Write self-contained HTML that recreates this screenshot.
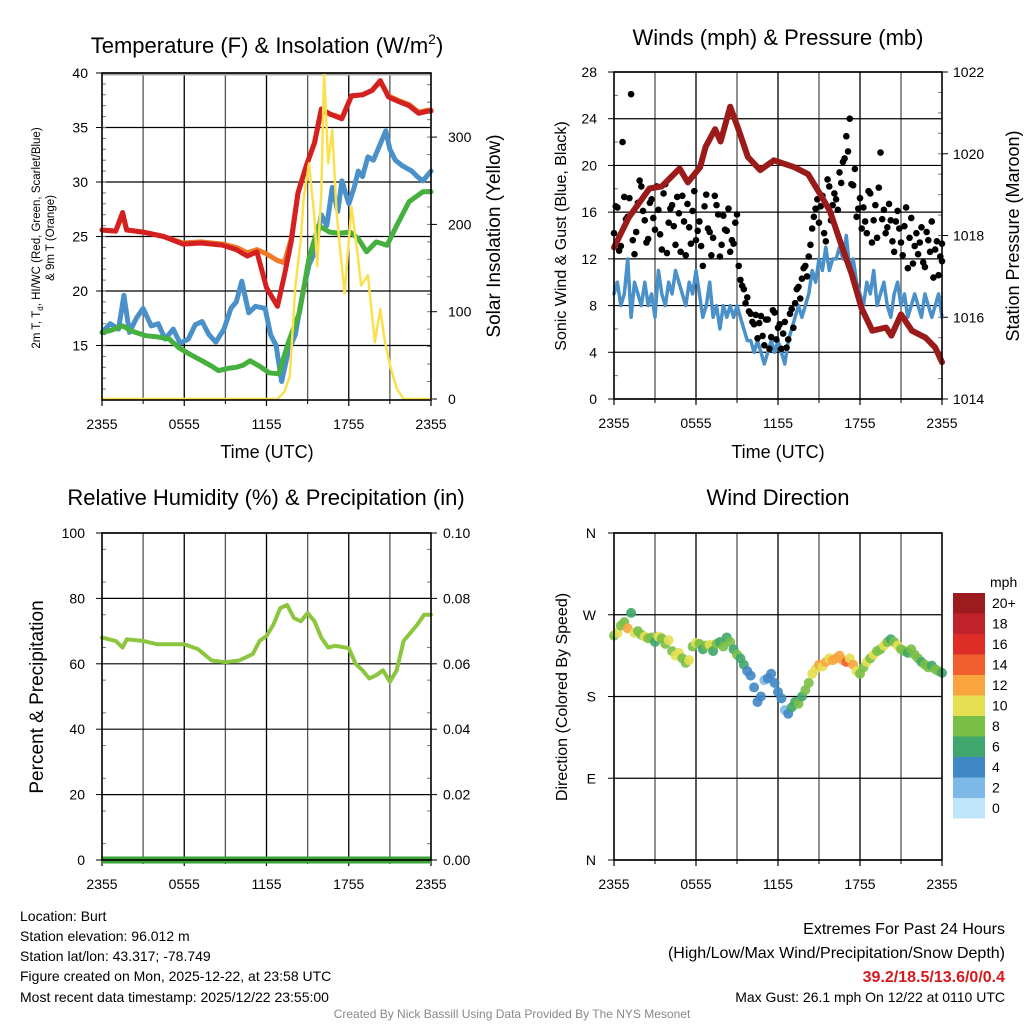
<!DOCTYPE html>
<html><head><meta charset="utf-8">
<style>
html,body{margin:0;padding:0;background:#fff;}
svg{display:block;font-family:"Liberation Sans",sans-serif;}
</style></head>
<body>
<svg id="chart" width="1024" height="1024" viewBox="0 0 1024 1024" xmlns="http://www.w3.org/2000/svg">
<rect width="1024" height="1024" fill="#fff"/>
<g id="g1"></g>
<g id="g2"></g>
<g id="g3"></g>
<g id="g4"></g>
<g id="txt" font-size="14" fill="#000">
<text x="20" y="921">Location: Burt</text>
<text x="20" y="941">Station elevation: 96.012 m</text>
<text x="20" y="961">Station lat/lon: 43.317; -78.749</text>
<text x="20" y="981">Figure created on Mon, 2025-12-22, at 23:58 UTC</text>
<text x="20" y="1002">Most recent data timestamp: 2025/12/22 23:55:00</text>
<text x="1005" y="934" text-anchor="end" font-size="16">Extremes For Past 24 Hours</text>
<text x="1005" y="958" text-anchor="end" font-size="16">(High/Low/Max Wind/Precipitation/Snow Depth)</text>
<text x="1005" y="982" text-anchor="end" font-size="16" font-weight="bold" fill="#d7191c">39.2/18.5/13.6/0/0.4</text>
<text x="1005" y="1002" text-anchor="end" font-size="14">Max Gust: 26.1 mph On 12/22 at 0110 UTC</text>
<text x="512" y="1018" text-anchor="middle" font-size="12" fill="#888">Created By Nick Bassill Using Data Provided By The NYS Mesonet</text>
</g>
</svg>
<script>
// ---------- data ----------
const xTickLabels = ["2355","0555","1155","1755","2355"];
const tempT = [0,1.0,1.5,1.8,3.0,4.5,5.9,7.2,8.8,9.8,10.6,11.3,12.0,12.8,13.3,13.8,14.3,14.9,15.5,16.0,16.7,17.5,18.2,19.0,19.7,20.3,20.9,21.6,22.4,23.1,23.8,24];
const tempRed = [25.6,25.5,27.2,25.6,25.4,25.0,24.3,24.4,24.2,23.8,23.2,23.6,20.3,18.6,21.4,24.5,29.0,31.5,33.6,36.7,36.2,35.8,37.9,38.0,38.4,39.3,37.8,37.4,37.0,36.3,36.5,36.5];
const tempOrange = [25.6,25.5,27.0,25.6,25.4,25.0,24.4,24.5,24.3,24.0,23.5,23.8,23.4,22.8,22.6,24.8,29.0,31.5,33.6,36.5,36.2,35.9,37.9,38.0,38.4,39.2,37.9,37.5,37.1,36.4,36.6,36.6];
const dewT = [0,0.7,1.5,2.2,3.2,4.0,4.9,5.6,6.4,7.3,8.0,8.5,9.2,9.8,10.3,10.8,11.5,12.2,12.9,13.6,14.4,15.1,15.8,16.6,17.3,18.1,18.7,19.3,20.0,20.8,21.5,22.4,23.4,24];
const dewGreen = [16.2,16.4,16.8,16.3,15.9,15.8,15.6,14.8,14.2,13.6,13.1,12.7,12.9,13.0,13.2,13.6,13.1,12.5,12.4,15.3,18.0,23.0,26.0,25.4,25.3,25.4,24.8,23.6,24.5,24.2,26.0,28.2,29.1,29.1];
const hiT = [0,0.6,1.2,1.6,2.0,2.5,3.0,3.6,4.1,4.6,5.2,5.7,6.3,6.8,7.3,7.8,8.3,8.9,9.4,9.8,10.2,10.7,11.2,11.9,12.3,12.7,13.1,13.6,14.1,14.6,15.1,15.5,16.0,16.4,16.8,17.2,17.5,18.0,18.4,18.7,19.0,19.4,19.8,20.3,20.7,21.0,21.4,21.9,22.6,23.0,23.4,24];
const hiBlue = [16.2,17.0,16.5,19.6,16.2,17.5,18.4,16.8,17.0,15.6,16.5,15.2,15.6,16.9,17.2,16.0,15.3,16.5,18.4,19.0,20.9,18.0,18.6,18.4,16.0,15.0,11.7,14.5,16.0,19.5,22.4,23.5,27.0,26.0,29.5,27.3,30.1,28.0,29.5,31.0,30.5,32.3,32.0,33.5,34.7,33.0,32.0,31.5,31.0,30.5,30.1,31.0];
const solarT = [0,12.8,13.3,13.7,14.1,14.5,14.7,15.1,15.5,15.7,16.0,16.2,16.5,16.8,17.1,17.3,17.7,18.2,18.6,18.9,19.4,19.9,20.3,20.6,21.0,21.5,22.0,24];
const solarW = [0,0,8,26,129,182,228,270,207,152,236,373,270,308,217,182,121,220,172,130,142,65,103,69,39,12,0,0];
const presT = [0,1.1,2.6,3.5,4.8,5.4,6.3,6.7,7.4,7.8,8.5,9.1,9.8,10.7,11.7,13.2,14.2,15.1,15.8,16.6,17.4,18.1,18.9,19.9,20.3,21.0,21.8,22.8,23.5,24];
const presMb = [1017.71,1018.45,1019.15,1019.2,1019.64,1019.3,1019.67,1020.17,1020.6,1020.3,1021.15,1020.6,1019.92,1019.6,1019.84,1019.67,1019.5,1019.0,1018.6,1017.8,1017.05,1016.23,1015.67,1015.75,1015.55,1016.07,1015.67,1015.5,1015.26,1014.9];
const windSpd = [9,10,8,9,12,7,10,9,8, 10,8,9,7,11,9,8,10, 9,11,10,9,8,10,9,11, 9,7,8,10,7,8,6,8, 7,8,7,8,7,6,5,5, 4,5,4,3,4,5,4,5, 4,3,5,6,7,8,7,8, 9,11,10,12,11,13,11,12, 12,13,12,14,11,12,10,9, 8,10,9,11,8,9,10,8, 7,9,10,8,9,7,8,9, 8,7,9,8,7,8,9,7];
const gustA = [14.2,16.4,13.1,17.3,15.6,26.1,12.4,16.8,18.2, 15.3,13.7,17.1,14.5,16.2,12.8,18.4,15.1, 16.6,13.2,15.9,17.4,12.3,14.7,16.1,13.6, 15.2,11.4,17.5,14.3,13.8,16.6,12.2,15.7, 14.4,12.6,13.3,15.8,10.2,9.4,8.7,7.3, 6.4,5.2,7.1,4.6,6.8,5.3,7.4,6.1, 4.3,6.6,5.1,7.7,8.2,9.6,10.3,11.4, 12.2,14.6,16.3,15.1,17.4,13.5,18.2,16.6, 17.1,19.4,20.3,22.5,24.0,18.3,15.6,17.2, 16.4,14.2,17.6,15.3,13.8,21.1,16.2,14.7, 15.3,12.6,16.1,13.4,14.8,11.2,15.5,13.1, 12.4,14.7,11.3,13.6,15.2,12.8,10.6,13.3];
const gustB = [16.5,12.7,22.0,15.4,17.2,13.6,14.3,18.7,16.1, 13.4,16.8,15.5,18.2,14.1,17.6,12.5,16.3, 14.8,17.3,12.6,15.2,16.7,13.3,17.8,14.4, 13.1,16.5,14.6,12.3,17.4,15.8,13.2,14.5, 16.3,13.6,15.1,11.4,9.7,8.2,7.5,6.6, 7.2,6.5,5.4,6.8,4.3,7.6,5.1,6.4, 5.6,4.4,7.3,6.1,9.4,8.6,11.2,10.5, 13.2,15.6,17.1,16.5,14.2,18.8,15.3,17.6, 16.2,18.5,20.6,21.2,18.4,19.7,16.3,14.6, 15.2,17.8,13.4,16.6,18.1,15.4,14.2,16.7, 13.5,15.2,14.6,12.3,16.4,13.8,11.6,14.2, 13.4,11.7,14.3,12.6,10.4,13.5,12.2,11.8];
const windDir = [247,250,258,262,255,272,250,252,248, 246,244,245,240,246,244,238,242, 230,225,228,222,217,220,235,239, 238,232,236,237,230,238,240,235, 245,240,232,226,222,215,208,203, 190,174,180,198,200,205,195,185, 178,165,161,168,174,172,180,187, 195,205,210,215,213,218,222,220, 222,225,220,218,222,215,208,205, 212,218,222,226,230,232,236,240, 243,240,236,232,230,228,232,226, 222,218,215,212,214,210,208,206];
const rhT = [0,1,1.5,1.8,3,4,6,7,8,9,10,11,11.5,12,12.5,13,13.5,14,14.5,15,15.5,16,16.5,17,18,18.5,19,19.5,20,20.5,21,21.5,22,23,23.5,24];
const rhPct = [68,67,65,67.5,67,66,66,64.5,61,60.5,61,63,67,68.5,72,77,78,74,73,75.5,73,68,65,65.5,64.8,60,58,55.5,56.5,58,54.5,58,67,72,75,75];
const tempTicks = [15,20,25,30,35,40];
const solarTicks = [0,100,200,300];
const windTicks = [0,4,8,12,16,20,24,28];
const presTicks = [1014,1016,1018,1020,1022];
const rhTicks = [0,20,40,60,80,100];
const precipTicks = ["0.00","0.02","0.04","0.06","0.08","0.10"];
const dirTicks = ["N","E","S","W","N"];
const cbLabels = ["20+","18","16","14","12","10","8","6","4","2","0"];
const cbColors = ["#9b1b1e","#c0222a","#de2d26","#f0602f","#f9a53e","#e6df52","#79bf45","#3fa66c","#3f87c5","#7db9e6","#bfe6f8"];

// ---------- helpers ----------
const NS="http://www.w3.org/2000/svg";
function mk(parent,tag,attrs){const e=document.createElementNS(NS,tag);for(const k in attrs)e.setAttribute(k,attrs[k]);parent.appendChild(e);return e;}
function txt(parent,x,y,s,attrs){const e=mk(parent,"text",Object.assign({x:x,y:y},attrs||{}));e.textContent=s;return e;}

function panel(g,L,R,T,B){
  const gx=mk(g,"g",{});
  
  
  for(let i=1;i<8;i++){const x=L+(R-L)*i/8;mk(gx,"line",{x1:x,x2:x,y1:T,y2:B,stroke:i%2?"#555":"#000","stroke-width":1.3});}
  for(let i=0;i<=8;i+=2){const x=L+(R-L)*i/8;
    const tk=mk(g,"line",{x1:x,x2:x,y1:B,y2:B+6,stroke:"#000","stroke-width":1.2});
    
    
    const lb=txt(g,x,B+29,xTickLabels[i/2],{"font-size":14,"text-anchor":"middle"});
    
    
  }
  for(let i=1;i<8;i+=2){const x=L+(R-L)*i/8;mk(g,"line",{x1:x,x2:x,y1:B,y2:B+4,stroke:"#000","stroke-width":1});}
}
function frame(g,L,R,T,B){
  const f=mk(g,"rect",{x:L,y:T,width:R-L,height:B-T,fill:"none",stroke:"#000","stroke-width":1.6});
  
  
}
function hgrid(g,L,R,y){mk(g,"line",{x1:L,x2:R,y1:y,y2:y,stroke:"#000","stroke-width":1.2});}
function poly(g,xs,ys,sx,sy,color,w,name){
  const pts=xs.map((t,i)=>sx(t).toFixed(1)+","+sy(ys[i]).toFixed(1)).join(" ");
  const p=mk(g,"polyline",{points:pts,fill:"none",stroke:color,"stroke-width":w,"stroke-linejoin":"round","stroke-linecap":"round"});
  
  
  return p;
}
function stepT(i){return i*0.25;}

// ---------- panel 1 ----------
(function(){
  const g=document.getElementById("g1");
  const L=102,R=431,T=73,B=400;
  const sx=t=>L+(R-L)*t/24;
  const sy=v=>B-(v-10)*(B-T)/30;
  const sr=v=>399-v*0.873;
  panel(g,L,R,T,B);
  mk(g,"line",{x1:L,x2:R,y1:T+1,y2:T+1,stroke:"#aaa","stroke-width":3});
  tempTicks.forEach(v=>{hgrid(g,L,R,sy(v));
    const l=txt(g,L-14,sy(v)+5,String(v),{"font-size":14,"text-anchor":"end"});
    
    
    mk(g,"line",{x1:L-6,x2:L,y1:sy(v),y2:sy(v),stroke:"#000"});});
  for(let v=11;v<40;v++){mk(g,"line",{x1:L,x2:L+4,y1:sy(v),y2:sy(v),stroke:"#777"});}
  solarTicks.forEach(v=>{
    mk(g,"line",{x1:R,x2:R+6,y1:sr(v),y2:sr(v),stroke:"#000"});
    const l=txt(g,R+17,sr(v)+5,String(v),{"font-size":14});
    
    });
  for(let v=20;v<=360;v+=20){mk(g,"line",{x1:R-4,x2:R,y1:sr(v),y2:sr(v),stroke:"#777"});}
  poly(g,hiT,hiBlue,sx,sy,"#4a90c9",5,"heat-index-line");
  poly(g,dewT,dewGreen,sx,sy,"#45b03d",5,"dewpoint-line");
  poly(g,tempT,tempOrange,sx,sy,"#f07a28",5,"9m-temp-line");
  poly(g,tempT,tempRed,sx,sy,"#d42020",5,"2m-temp-line");
  poly(g,solarT,solarW,sx,sr,"#fbe04d",2.5,"solar-line");
  frame(g,L,R,T,B);
  const t=txt(g,267,53,"Temperature (F) & Insolation (W/m",{"font-size":22,"text-anchor":"middle"});
  const s=mk(t,"tspan",{dy:-9,"font-size":14});s.textContent="2";
  const s2=mk(t,"tspan",{dy:9});s2.textContent=")";
  
  const xl=txt(g,267,458,"Time (UTC)",{"font-size":18,"text-anchor":"middle"});
  
  const yl=mk(g,"text",{transform:"translate(40,238) rotate(-90)","font-size":11.5,"text-anchor":"middle"});
  yl.innerHTML='2m T, T<tspan font-size="8" dy="3">d</tspan><tspan dy="-3">, HI/WC (Red, Green, Scarlet/Blue)</tspan>';
  
  const yl2=txt(g,0,0,"& 9m T (Orange)",{transform:"translate(54,238) rotate(-90)","font-size":11.5,"text-anchor":"middle"});
  
  const yr=txt(g,0,0,"Solar Insolation (Yellow)",{transform:"translate(500,236) rotate(-90)","font-size":19,"text-anchor":"middle"});
  
})();

// ---------- panel 2 ----------
(function(){
  const g=document.getElementById("g2");
  const L=614,R=942,T=72,B=399;
  const sx=t=>L+(R-L)*t/24;
  const sy=v=>B-v*(B-T)/28;
  const sp=v=>B-(v-1014)*(B-T)/8;
  panel(g,L,R,T,B);
  windTicks.forEach(v=>{hgrid(g,L,R,sy(v));
    mk(g,"line",{x1:L-6,x2:L,y1:sy(v),y2:sy(v),stroke:"#000"});
    const l=txt(g,L-17,sy(v)+5,String(v),{"font-size":14,"text-anchor":"end"});
    });
  for(let v=2;v<28;v+=4){mk(g,"line",{x1:L,x2:L+4,y1:sy(v),y2:sy(v),stroke:"#777"});}
  presTicks.forEach(v=>{mk(g,"line",{x1:R,x2:R+6,y1:sp(v),y2:sp(v),stroke:"#000"});
    const l=txt(g,R+11,sp(v)+5,String(v),{"font-size":14});
    });
  for(let v=1014.5;v<1022;v+=0.5){mk(g,"line",{x1:R-4,x2:R,y1:sp(v),y2:sp(v),stroke:"#777"});}
  poly(g,windSpd.map((v,i)=>stepT(i)),windSpd,sx,sy,"#4a90c9",3.5,"sonic-wind-line");
  [gustA,gustB].forEach((arr,k)=>arr.forEach((v,i)=>{
    const c=mk(g,"circle",{cx:sx(Math.min(24,stepT(i)+k*0.125)),cy:sy(v),r:3.3,fill:"#000"});
    
    
  }));
  poly(g,presT,presMb,sx,sp,"#9b1b1b",6,"pressure-line");
  frame(g,L,R,T,B);
  const t=txt(g,778,45,"Winds (mph) & Pressure (mb)",{"font-size":22,"text-anchor":"middle"});
  
  const xl=txt(g,778,458,"Time (UTC)",{"font-size":18,"text-anchor":"middle"});
  
  const yl=txt(g,0,0,"Sonic Wind & Gust (Blue, Black)",{transform:"translate(566,236) rotate(-90)","font-size":16,"text-anchor":"middle"});
  
  const yr=txt(g,0,0,"Station Pressure (Maroon)",{transform:"translate(1019,236) rotate(-90)","font-size":18,"text-anchor":"middle"});
  
})();

// ---------- panel 3 ----------
(function(){
  const g=document.getElementById("g3");
  const L=102,R=431,T=533,B=860;
  const sx=t=>L+(R-L)*t/24;
  const sy=v=>B-v*(B-T)/100;
  panel(g,L,R,T,B);
  rhTicks.forEach((v,i)=>{hgrid(g,L,R,sy(v));
    mk(g,"line",{x1:L-6,x2:L,y1:sy(v),y2:sy(v),stroke:"#000"});
    mk(g,"line",{x1:R,x2:R+6,y1:sy(v),y2:sy(v),stroke:"#000"});
    const l=txt(g,L-17,sy(v)+5,String(v),{"font-size":14,"text-anchor":"end"});
    
    const r=txt(g,R+12,sy(v)+5,precipTicks[i],{"font-size":14});
    });
  for(let v=5;v<100;v+=10){mk(g,"line",{x1:L,x2:L+4,y1:sy(v),y2:sy(v),stroke:"#777"});mk(g,"line",{x1:R-4,x2:R,y1:sy(v),y2:sy(v),stroke:"#777"});}
  poly(g,rhT,rhPct,sx,sy,"#8cc63f",4,"rh-line");
  const pl=mk(g,"line",{x1:L,x2:R,y1:B,y2:B,stroke:"#3aa33a","stroke-width":7});
  
  frame(g,L,R,T,B);
  const t=txt(g,266,505,"Relative Humidity (%) & Precipitation (in)",{"font-size":22,"text-anchor":"middle"});
  
  const yl=txt(g,0,0,"Percent & Precipitation",{transform:"translate(43,697) rotate(-90)","font-size":19,"text-anchor":"middle"});
  
})();

// ---------- panel 4 ----------
(function(){
  const g=document.getElementById("g4");
  const L=614,R=942,T=533,B=860;
  const sx=t=>L+(R-L)*t/24;
  const sy=d=>B-d*(B-T)/360;
  panel(g,L,R,T,B);
  dirTicks.forEach((s,i)=>{const y=sy(i*90);hgrid(g,L,R,y);
    mk(g,"line",{x1:L-6,x2:L,y1:y,y2:y,stroke:"#000"});
    const l=txt(g,L-18,y+5,s,{"font-size":14,"text-anchor":"end"});
    });
  windDir.forEach((d,i)=>{
    const bin=Math.min(10,Math.floor(windSpd[i]/2));
    const c=mk(g,"circle",{cx:sx(stepT(i)),cy:sy(d),r:5,fill:cbColors[10-bin],"fill-opacity":0.9});
    
    
  });
  frame(g,L,R,T,B);
  const t=txt(g,778,505,"Wind Direction",{"font-size":22,"text-anchor":"middle"});
  
  const yl=txt(g,0,0,"Direction (Colored By Speed)",{transform:"translate(567,697) rotate(-90)","font-size":16,"text-anchor":"middle"});
  
  const cb=mk(g,"g",{});
  
  const h=20.5;
  cbColors.forEach((c,i)=>{
    const r=mk(cb,"rect",{x:953,y:593+i*h,width:32,height:h,fill:c});
    
    const l=txt(cb,992,593+i*h+15,cbLabels[i],{"font-size":14});
    
  });
  const u=txt(cb,990,587,"mph",{"font-size":14});
  
})();
</script>
</body></html>
